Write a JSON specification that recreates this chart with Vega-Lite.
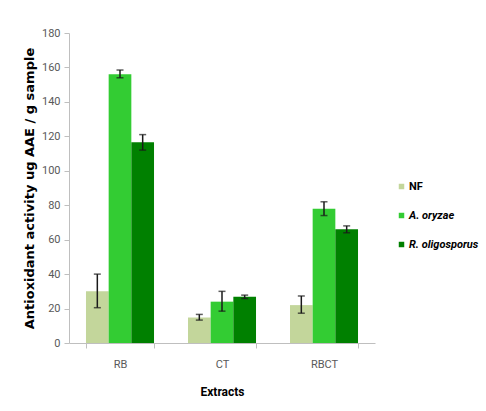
{
  "$schema": "https://vega.github.io/schema/vega-lite/v6.json",
  "width": 306,
  "height": 310,
  "autosize": "none",
  "padding": {"left": 69, "top": 33, "right": 111, "bottom": 68},
  "background": "white",
  "config": {
    "view": {"stroke": null},
    "axisY": {
      "titleFont": "DejaVu Sans",
      "titleFontSize": 13,
      "titleFontWeight": "bold",
      "titleColor": "#000000",
      "titlePadding": 5,
      "grid": false,
      "labelFont": "Roboto",
      "labelFontSize": 11,
      "labelColor": "#595959",
      "labelPadding": 4,
      "tickSize": 5,
      "tickColor": "#BFBFBF",
      "domainColor": "#BFBFBF"
    }
  },
  "data": {
    "values": [
      {"extract": "RB", "type": "NF", "value": 30, "lo": 20.5, "hi": 40},
      {"extract": "RB", "type": "A. oryzae", "value": 156, "lo": 154, "hi": 158.5},
      {"extract": "RB", "type": "R. oligosporus", "value": 116.5, "lo": 112, "hi": 121},
      {"extract": "CT", "type": "NF", "value": 14.8, "lo": 13.3, "hi": 16.6},
      {"extract": "CT", "type": "A. oryzae", "value": 24, "lo": 18.5, "hi": 30},
      {"extract": "CT", "type": "R. oligosporus", "value": 26.8, "lo": 25.8, "hi": 27.8},
      {"extract": "RBCT", "type": "NF", "value": 22, "lo": 17.3, "hi": 27.3},
      {"extract": "RBCT", "type": "A. oryzae", "value": 78, "lo": 74, "hi": 82},
      {"extract": "RBCT", "type": "R. oligosporus", "value": 66, "lo": 64, "hi": 68}
    ]
  },
  "encoding": {
    "x": {
      "field": "extract",
      "type": "nominal",
      "sort": ["RB", "CT", "RBCT"],
      "scale": {"paddingInner": 0.333, "paddingOuter": 0.1665},
      "axis": {
        "title": "Extracts",
        "titleFont": "Roboto",
        "titleFontSize": 12,
        "titleFontWeight": "bold",
        "titleColor": "#000000",
        "titlePadding": 17,
        "labelAngle": 0,
        "labelFont": "Roboto",
        "labelFontSize": 11,
        "labelColor": "#595959",
        "labelPadding": 10,
        "tickBand": "extent",
        "tickSize": 5,
        "tickColor": "#BFBFBF",
        "domainColor": "#BFBFBF"
      }
    },
    "xOffset": {"field": "type", "type": "nominal", "sort": ["NF", "A. oryzae", "R. oligosporus"], "scale": {"paddingInner": 0, "paddingOuter": 0}}
  },
  "layer": [
    {
      "mark": {"type": "bar"},
      "encoding": {
        "y": {
          "field": "value",
          "type": "quantitative",
          "scale": {"domain": [0, 180], "nice": false},
          "axis": {"title": "Antioxidant activity ug AAE / g sample", "tickCount": 9, "labelOverlap": false}
        },
        "color": {
          "field": "type",
          "type": "nominal",
          "sort": ["NF", "A. oryzae", "R. oligosporus"],
          "scale": {"domain": ["NF", "A. oryzae", "R. oligosporus"], "range": ["#C3D69B", "#33CC33", "#008000"]},
          "legend": {
            "title": null,
            "orient": "none",
            "legendX": 327,
            "legendY": 148,
            "padding": 0,
            "symbolType": "square",
            "symbolSize": 30,
            "symbolStrokeWidth": 0,
            "labelFont": "Roboto",
            "labelFontSize": 11,
            "labelFontWeight": "bold",
            "labelColor": "#000000",
            "labelOffset": 2,
            "labelLimit": 200,
            "rowPadding": 17,
            "encode": {
              "labels": {
                "update": {
                  "fontStyle": {"signal": "datum.label == 'NF' ? 'normal' : 'italic'"}
                }
              }
            }
          }
        }
      }
    },
    {
      "mark": {"type": "rule", "color": "#1a1a1a", "strokeWidth": 1.5},
      "encoding": {
        "y": {"field": "lo", "type": "quantitative"},
        "y2": {"field": "hi"}
      }
    },
    {
      "mark": {"type": "tick", "color": "#1a1a1a", "size": 7, "thickness": 1.5, "orient": "horizontal"},
      "encoding": {
        "y": {"field": "lo", "type": "quantitative"}
      }
    },
    {
      "mark": {"type": "tick", "color": "#1a1a1a", "size": 7, "thickness": 1.5, "orient": "horizontal"},
      "encoding": {
        "y": {"field": "hi", "type": "quantitative"}
      }
    }
  ]
}
